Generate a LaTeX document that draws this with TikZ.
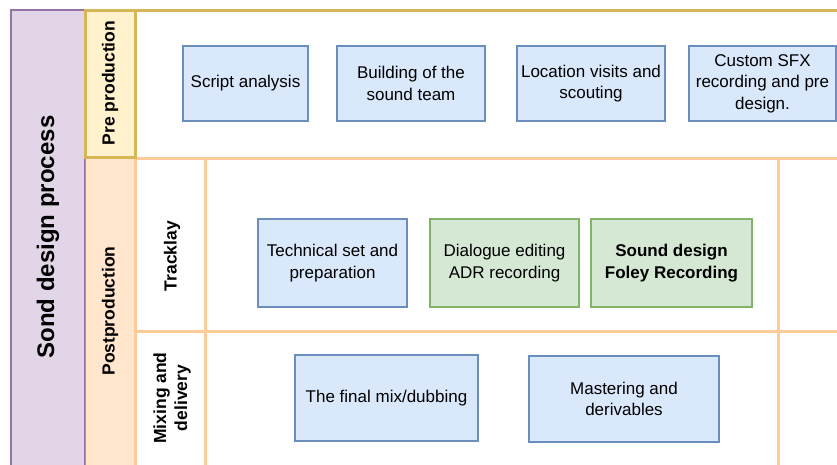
\documentclass[tikz,border=0pt]{standalone}
\usepackage{fontspec}
\setmainfont{Liberation Sans}
\usetikzlibrary{positioning}
\definecolor{procfill}{HTML}{E1D5E7}
\definecolor{procline}{HTML}{9673A6}
\definecolor{prefill}{HTML}{FFF2CC}
\definecolor{preline}{HTML}{D6B656}
\definecolor{postfill}{HTML}{FFE6CC}
\definecolor{postline}{HTML}{D79B00}
\definecolor{laneline}{HTML}{FFCC99}
\definecolor{bluefill}{HTML}{DAE8FC}
\definecolor{blueline}{HTML}{6C8EBF}
\definecolor{greenfill}{HTML}{D5E8D4}
\definecolor{greenline}{HTML}{82B366}

\begin{document}
\begin{tikzpicture}[x=1pt, y=-1pt,
  lane/.style = {draw=laneline, line width=3pt},
  head/.style = {rotate=90, align=center, font=\fontsize{17.5}{21}\selectfont\bfseries},
  task/.style = {draw=blueline, fill=bluefill, line width=1.2pt, align=center, minimum height=75pt, inner sep=0pt, font=\fontsize{17}{21.5}\selectfont},
  taskg/.style = {task, draw=greenline, fill=greenfill}]
\useasboundingbox (0,0) rectangle (837,464);
\clip (0,0) rectangle (837,464);
\filldraw [fill=procfill, draw=procline, line width=1.2pt] (11,10) rectangle (85,480);
\filldraw [fill=postfill, draw=postline, line width=1pt] (85,158) rectangle (135,480);
\draw [lane] (135,158) -- (845,158);
\draw [lane] (135,331) -- (845,331);
\draw [lane] (135,158) -- (135,480);
\draw [lane] (205,158) -- (205,480);
\draw [lane] (778,158) -- (778,480);
\filldraw [fill=prefill, draw=preline, line width=3pt] (85,10) rectangle (135,157);
\draw [draw=preline, line width=3pt] (135,10) -- (845,10);
\node [rotate=90, font=\fontsize{24}{28}\selectfont\bfseries] (proc) at (48,237) {Sond design process};
\node [head] (pre) at (110,83) {Pre production};
\node [head] (post) at (110,311) {Postproduction};
\node [head] (track) at (172,256) {Tracklay};
\node [head] (mix) at (172,398) {Mixing and\\delivery};
\node [task, minimum width=125pt] (script) at (245.5,83.5) {Script analysis};
\node [task, minimum width=148pt] (team) at (411,83.5) {Building of the\\sound team};
\node [task, minimum width=148pt] (scout) at (591,83.5) {Location visits and\\scouting};
\node [task, minimum width=147pt] (sfx) at (762.5,83.5) {Custom SFX\\recording and pre\\design.};
\node [task, minimum width=149pt, minimum height=88pt] (tech) at (332.5,263) {Technical set and\\preparation};
\node [taskg, minimum width=149pt, minimum height=88pt] (dial) at (504.5,263) {Dialogue editing\\ADR recording};
\node [taskg, minimum width=161pt, minimum height=88pt, font=\fontsize{17}{21.5}\selectfont\bfseries] (foley) at (671.5,263) {Sound design\\Foley Recording};
\node [task, minimum width=183pt, minimum height=86pt] (final) at (386.5,398) {The final mix/dubbing};
\node [task, minimum width=190pt, minimum height=86pt] (master) at (624,399) {Mastering and\\derivables};
\end{tikzpicture}
\end{document}
